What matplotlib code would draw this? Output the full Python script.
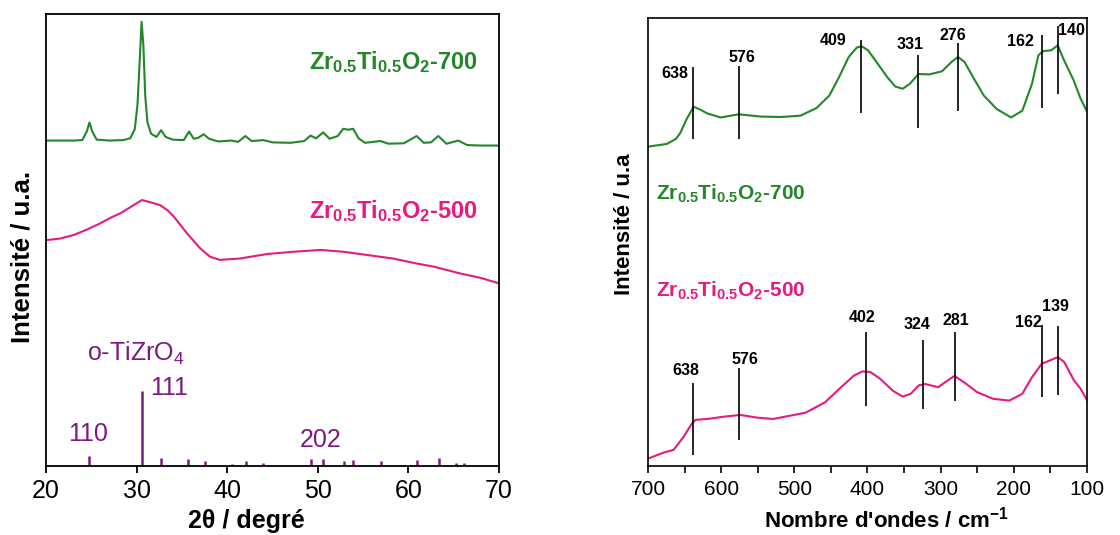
import matplotlib
matplotlib.use('Agg')
import matplotlib.pyplot as plt
from matplotlib.ticker import MultipleLocator

plt.rcParams['font.family'] = ['Liberation Sans', 'DejaVu Sans']
plt.rcParams['mathtext.fontset'] = 'custom'
plt.rcParams['mathtext.rm'] = 'Liberation Sans'
plt.rcParams['mathtext.bf'] = 'Liberation Sans:bold'

GREEN = '#23872a'
PINK = '#e61a80'
PURPLE = '#7d1a80'

# --- XRD (left), intensity on an arbitrary 0-100 scale ---
xrd700_x = [20, 23, 24.0, 24.5, 24.8, 25.1, 25.6, 27, 28.5, 29.3, 29.8, 30.1, 30.35, 30.55,
            30.75, 30.95, 31.2, 31.6, 32.2, 32.7, 33.2, 34, 35.2, 35.8, 36.3, 36.8, 37.4,
            38.0, 39, 40.5, 41.2, 42.0, 42.7, 44.0, 45, 47, 48.5, 49.2, 49.8, 50.6, 51.3,
            52.2, 52.8, 53.4, 53.9, 54.5, 55.2, 56.9, 57.8, 59.5, 60.9, 61.7, 62.5, 63.3,
            64.2, 65.5, 66.5, 68, 70]
xrd700_y = [72.0, 72.0, 72.1, 74.0, 76.0, 74.0, 72.2, 72.0, 72.1, 72.5, 74.5, 80, 90, 98.3,
            93, 82, 76, 73.5, 72.8, 74.3, 72.8, 72.2, 72.1, 74.0, 72.4, 72.6, 73.4,
            72.4, 71.8, 72.0, 71.7, 73.0, 71.9, 72.1, 71.6, 71.5, 71.9, 73.1, 72.5, 73.8, 72.4,
            73.0, 74.6, 74.4, 74.6, 72.5, 71.5, 71.9, 71.3, 71.4, 73.0, 71.5, 71.6, 73.0,
            71.3, 72.0, 71.0, 70.9, 70.9]

xrd500_x = [20.1, 21.5, 23.05, 24.5, 26, 27.2, 28.2, 29.5, 30.6, 31.6, 32.6, 33.4, 34.1,
            35.55, 37.0, 38.1, 39.2, 41.4, 44.4, 47.3, 50.3, 52.8, 55.4, 58.3, 60.9,
            62.8, 65.7, 68, 70]
xrd500_y = [50.0, 50.3, 51.1, 52.3, 53.7, 55.0, 55.9, 57.5, 58.85, 58.3, 57.7, 56.6, 55.2,
            51.5, 48.2, 46.3, 45.6, 45.9, 46.9, 47.4, 47.8, 47.4, 46.7, 45.9, 44.8,
            44.1, 42.6, 41.6, 40.4]

# o-TiZrO4 reference pattern
ref_pos = [24.8, 30.6, 32.7, 35.7, 37.5, 40.5, 42.1, 44.0, 49.2, 50.6, 52.9, 53.9,
           57.0, 60.9, 63.4, 65.2, 66.1]
ref_int = [2.2, 16.7, 1.7, 1.5, 1.0, 0.5, 1.1, 0.6, 1.5, 1.5, 1.2, 1.3,
           1.0, 1.3, 1.7, 0.6, 0.6]

# --- Raman (right) ---
ram700_x = [699, 674, 662, 656, 647, 637.6, 628, 619, 601, 576, 546, 519, 491.6, 469.7,
            452.1, 438.9, 425.7, 414.7, 408.1, 399.3, 386.1, 373, 362, 351.9, 342.2, 330.3,
            315.8, 298.2, 285.1, 276.3, 267.5, 254.3, 241.1, 223.5, 203.8, 188.4, 175.2,
            166.4, 159.8, 148.8, 140, 131.2, 118, 109, 100]
ram700_y = [71.3, 71.9, 73.0, 74.3, 77.5, 80.2, 79.5, 78.7, 77.8, 78.5, 78.0, 77.9, 78.2, 79.9,
            82.7, 86.8, 91.3, 93.4, 93.7, 92.8, 89.8, 86.8, 84.7, 84.2, 85.3, 87.5,
            87.4, 88.1, 90.2, 91.3, 90.2, 86.4, 82.7, 79.7, 77.8, 79.3, 85.3,
            91.7, 92.6, 92.8, 93.9, 90.5, 86.0, 82.1, 79.1]

ram500_x = [699, 678.6, 665, 651, 640, 635, 619, 596.6, 574, 551, 528.9, 484.7, 458.1, 436,
            418.4, 407.3, 396.3, 383, 365.3, 352, 341, 330, 321.1, 303.4, 290.2, 281.3,
            268.1, 250.4, 228.3, 206.2, 188.5, 175.3, 162, 148.7, 139.9, 131.1, 117.8, 109, 100]
ram500_y = [1.7, 3.0, 3.6, 6.6, 9.5, 10.3, 10.5, 11.0, 11.4, 10.8, 10.5, 11.9, 14.2, 17.6,
            20.2, 21.1, 21.0, 19.5, 16.8, 15.5, 16.1, 18.0, 18.3, 17.6, 19.1, 20.1,
            18.7, 16.5, 15.0, 14.6, 16.1, 19.8, 22.8, 23.7, 24.3, 23.2, 19.1, 17.3, 14.7]

peaks700 = [638, 576, 409, 331, 276, 162, 140]
peaks700_lo = [72.9, 73.0, 78.9, 75.4, 79.3, 80.0, 83.0]
peaks700_hi = [89.1, 89.3, 95.2, 91.7, 94.5, 96.2, 98.2]
lab700_x = [662.7, 571.5, 447.2, 341.9, 282.7, 191.6, 121.2]
lab700_y = [87.5, 91.2, 94.9, 94.0, 96.2, 94.7, 97.1]

peaks500 = [638, 576, 402, 324, 281, 162, 139]
peaks500_lo = [2.5, 5.8, 13.5, 12.7, 14.5, 15.5, 15.8]
peaks500_hi = [18.6, 21.9, 29.8, 28.1, 29.8, 31.5, 31.3]
lab500_x = [648.3, 567.4, 407.5, 332.9, 279.3, 179.8, 143.3]
lab500_y = [21.4, 23.7, 33.1, 31.6, 32.5, 32.1, 35.7]

fig = plt.figure(figsize=(11.2, 5.35), dpi=100)

# left panel
ax1 = fig.add_axes([46 / 1120, 69 / 535, 453 / 1120, 452 / 535])
ax1.plot(xrd700_x, xrd700_y, color=GREEN, lw=1.5)
ax1.plot(xrd500_x, xrd500_y, color=PINK, lw=1.5)
ax1.vlines(ref_pos, 0, ref_int, color=PURPLE, lw=1.8)
ax1.set_xlim(20, 70)
ax1.set_ylim(0, 100)
ax1.set_yticks([])
ax1.xaxis.set_major_locator(MultipleLocator(10))
ax1.tick_params(axis='x', direction='out', length=5, width=1.3, labelsize=18, pad=4)
for s in ax1.spines.values():
    s.set_linewidth(1.3)

ax1.text(67.7, 87.8, r'$\mathbf{Zr_{0.5}Ti_{0.5}O_2}$-700', color=GREEN, fontsize=17,
         fontweight='bold', ha='right', va='baseline')
ax1.text(67.7, 54.8, r'$\mathbf{Zr_{0.5}Ti_{0.5}O_2}$-500', color=PINK, fontsize=17,
         fontweight='bold', ha='right', va='baseline')
ax1.text(24.55, 23.3, r'o-TiZrO$_4$', color=PURPLE, fontsize=18, va='baseline')
ax1.text(31.5, 15.7, '111', color=PURPLE, fontsize=18, va='baseline')
ax1.text(22.46, 5.6, '110', color=PURPLE, fontsize=18, va='baseline')
ax1.text(48.05, 4.1, '202', color=PURPLE, fontsize=18, va='baseline')

fig.text(246 / 1120, 1 - 521 / 535, '2θ / degré', fontsize=18, fontweight='bold',
         ha='center', va='center')
fig.text(23 / 1120, 1 - 257 / 535, 'Intensité / u.a.', fontsize=18.5, fontweight='bold',
         rotation=90, ha='center', va='center')

# right panel
ax2 = fig.add_axes([648 / 1120, 69 / 535, 439 / 1120, 448 / 535])
ax2.plot(ram700_x, ram700_y, color=GREEN, lw=1.5)
ax2.plot(ram500_x, ram500_y, color=PINK, lw=1.5)
ax2.vlines(peaks700, peaks700_lo, peaks700_hi, color='black', lw=1.2)
ax2.vlines(peaks500, peaks500_lo, peaks500_hi, color='black', lw=1.2)
for x, y, p in zip(lab700_x, lab700_y, peaks700):
    ax2.text(x, y, str(p), fontsize=11.5, fontweight='bold', ha='center', va='center')
for x, y, p in zip(lab500_x, lab500_y, peaks500):
    ax2.text(x, y, str(p), fontsize=11.5, fontweight='bold', ha='center', va='center')
ax2.set_xlim(700, 100)
ax2.set_ylim(0, 100)
ax2.set_yticks([])
ax2.xaxis.set_major_locator(MultipleLocator(100))
ax2.xaxis.set_minor_locator(MultipleLocator(50))
ax2.tick_params(axis='x', which='both', direction='out', length=5, width=1.2,
                labelsize=15, pad=5)
for s in ax2.spines.values():
    s.set_linewidth(1.2)

ax2.text(688.7, 59.5, r'$\mathbf{Zr_{0.5}Ti_{0.5}O_2}$-700', color=GREEN, fontsize=15,
         fontweight='bold', ha='left', va='baseline')
ax2.text(688.7, 37.8, r'$\mathbf{Zr_{0.5}Ti_{0.5}O_2}$-500', color=PINK, fontsize=15,
         fontweight='bold', ha='left', va='baseline')

fig.text(886 / 1120, 1 - 520 / 535, "Nombre d'ondes / cm$^{\\mathbf{-1}}$", fontsize=16,
         fontweight='bold', ha='center', va='center')
fig.text(625 / 1120, 1 - 224 / 535, 'Intensité / u.a', fontsize=16, fontweight='bold',
         rotation=90, ha='center', va='center')

fig.savefig('out.png', dpi=100)
